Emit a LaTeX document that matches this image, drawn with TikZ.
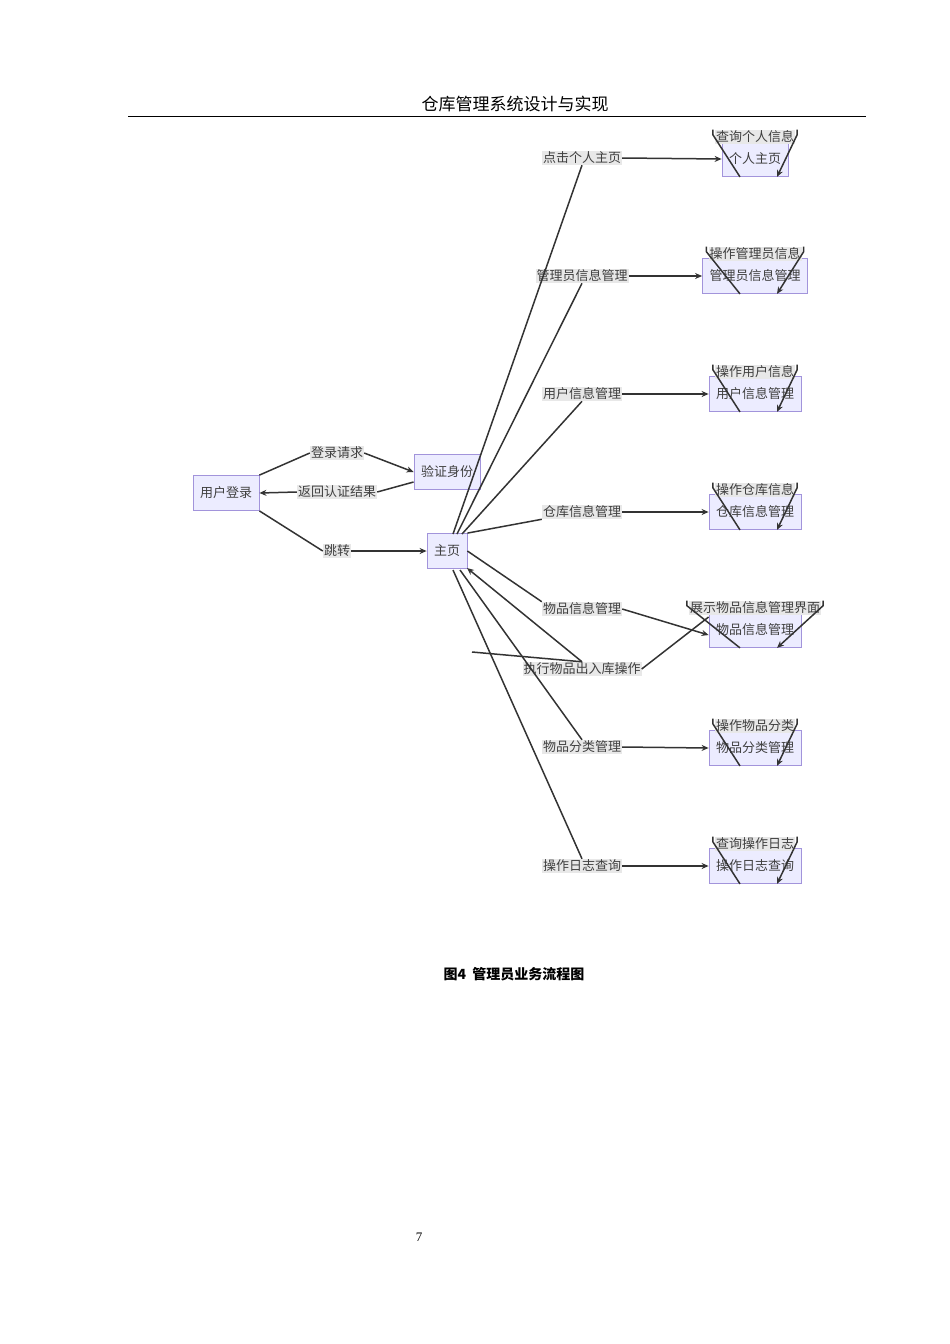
\documentclass[tikz,border=0pt]{standalone}
\usepackage{fontspec}
\setmainfont{Liberation Serif}
\newfontfamily\cjk{Noto Sans CJK SC}
\usetikzlibrary{arrows.meta}
\definecolor{boxfill}{HTML}{ECECFF}
\definecolor{boxdraw}{HTML}{A294DB}
\definecolor{lblbg}{HTML}{E8E8E8}
\definecolor{edge}{HTML}{333333}
\tikzset{
 bx/.style={draw=boxdraw,fill=boxfill,line width=0.8pt,minimum height=35pt,inner xsep=7pt,font=\cjk\fontsize{13}{13}\selectfont,text=black!75},
 lbl/.style={fill=lblbg,inner sep=1pt,font=\cjk\fontsize{13}{13}\selectfont,text=black!75},
 ln/.style={draw=edge,line width=1.5pt},
 ar/.style={ln,-{Stealth[length=7pt,width=6pt]}}
}
\begin{document}
\begin{tikzpicture}[x=1pt,y=-1pt]
\useasboundingbox (0,0) rectangle (950,1344);
\node[font=\cjk\fontsize{17}{17}\selectfont] (title) at (515,104) {仓库管理系统设计与实现};
\coordinate (hl) at (128,116); \coordinate (hr) at (866,116);
\draw[line width=1pt] (hl) -- (hr);
\node[font=\cjk\bfseries\fontsize{14}{14}\selectfont] (cap) at (514,974) {图4\ \ 管理员业务流程图};
\node[font=\fontsize{13}{13}\selectfont] (pg) at (419,1237) {7};

\node[bx] (login) at (226,493) {用户登录};
\node[bx] (verify) at (447,472) {验证身份};
\node[bx] (home) at (447,551) {主页};
\node[lbl] (l1) at (337,453) {登录请求};
\node[lbl] (l2) at (337,492) {返回认证结果};
\node[lbl] (l3) at (337,551) {跳转};
\draw[ln] (login.north east) -- (l1.west);
\draw[ar] (l1.east) -- (verify.west);
\draw[ln] (verify.west|-0,482) -- (l2.east);
\draw[ar] (l2.west) -- (login.east);
\draw[ln] (login.south east) -- (l3.west);
\draw[ar] (l3.east) -- (home.west);

% right boxes
\node[bx] (b1) at (755,159) {个人主页};
\node[bx] (b2) at (755,276) {管理员信息管理};
\node[bx] (b3) at (755,394) {用户信息管理};
\node[bx] (b4) at (755,512) {仓库信息管理};
\node[bx] (b5) at (755,630) {物品信息管理};
\node[bx] (b6) at (755,748) {物品分类管理};
\node[bx] (b7) at (755,866) {操作日志查询};
% middle labels
\node[lbl] (m1) at (582,158) {点击个人主页};
\node[lbl] (m2) at (582,276) {管理员信息管理};
\node[lbl] (m3) at (582,394) {用户信息管理};
\node[lbl] (m4) at (582,512) {仓库信息管理};
\node[lbl] (m5) at (582,609) {物品信息管理};
\node[lbl] (m6) at (582,669) {执行物品出入库操作};
\node[lbl] (m7) at (582,747) {物品分类管理};
\node[lbl] (m8) at (582,866) {操作日志查询};

\coordinate (h1) at (453,534); \coordinate (h2) at (457,534); \coordinate (h3) at (462,534);
\draw[ln] (h1) -- (m1.south);
\draw[ln] (h2) -- (m2.south);
\draw[ln] (h3) -- (m3.south);
\draw[ln] (home.north east) -- (m4.south west);
\draw[ln] (home.east) -- (m5.north west);
\coordinate (h6) at (467,568);
\draw[ln] (m6.north) -- (472,652) ;
\draw[ar] (m6.north) -- (h6);
\draw[ln] (460,570) -- (m7.north);
\draw[ln] (453,570) -- (m8.north);
\foreach \i in {1,2,3,4,7,8}{}
\draw[ar] (m1.east) -- (b1.west);
\draw[ar] (m2.east) -- (b2.west);
\draw[ar] (m3.east) -- (b3.west);
\draw[ar] (m4.east) -- (b4.west);
\draw[ar] (m5.east) -- ([yshift=-5pt]b5.west);
\draw[ln] ([yshift=13pt]b5.west) -- (m6.east);
\draw[ar] (m7.east) -- (b6.west);
\draw[ar] (m8.east) -- (b7.west);

% self loops
\foreach \b/\t in {b1/查询个人信息,b2/操作管理员信息,b3/操作用户信息,b4/操作仓库信息,b5/展示物品信息管理界面,b6/操作物品分类,b7/查询操作日志}{
  \node[lbl] (s\b) at ([yshift=40pt]\b.south) {\t};
  \draw[ln] ([xshift=-15pt]\b.south) -- ([xshift=-2pt,yshift=-5pt]s\b.north west) -- ([xshift=-2pt]s\b.north west);
  \draw[ar] ([xshift=2pt]s\b.north east) -- ([xshift=2pt,yshift=-5pt]s\b.north east) -- ([xshift=22pt]\b.south);
}
\end{tikzpicture}
\end{document}
